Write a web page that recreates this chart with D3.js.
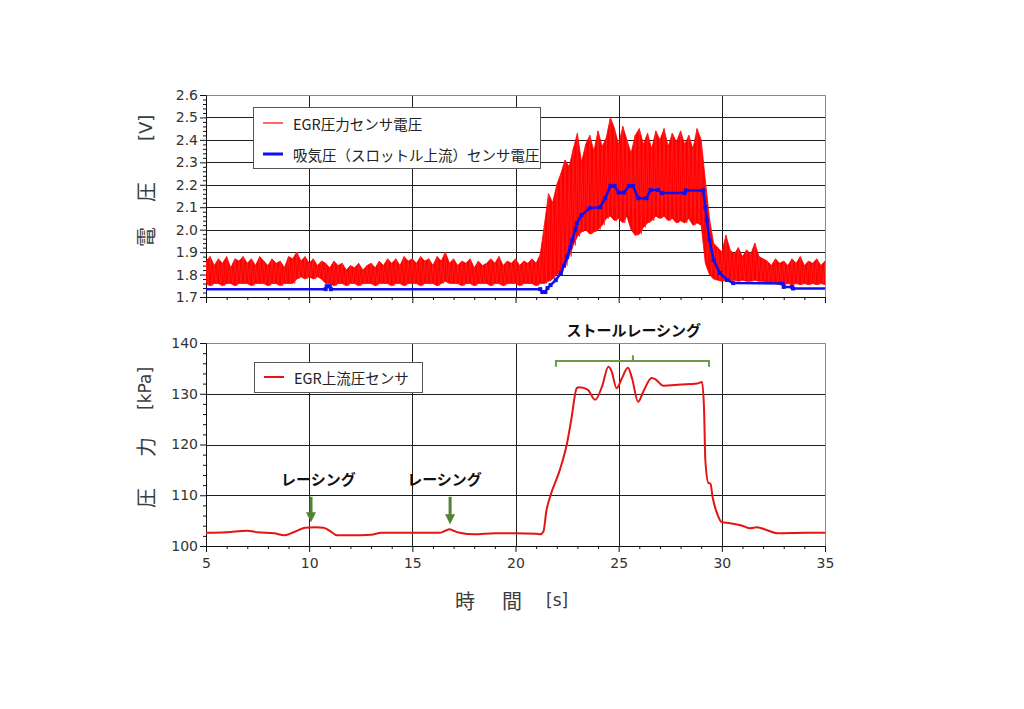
<!DOCTYPE html>
<html><head><meta charset="utf-8">
<script src="https://cdn.jsdelivr.net/npm/d3@7"></script>
<style>
html,body{margin:0;padding:0;background:#fff;}
svg{display:block;}
</style></head>
<body>
<script>
// ---------- DATA ----------
// top chart: EGR pressure sensor voltage (red) -- upper / lower envelope sampled every 0.2 s from 5 s to 35 s
const redStart = 5, redStep = 0.2;
const redHi = [
 1.86,1.88,1.84,1.87,1.85, 1.88,1.83,1.87,1.86,1.88, 1.85,1.87,1.84,1.88,1.86,
 1.84,1.87,1.85,1.86,1.83, 1.88,1.87,1.90,1.86,1.88, 1.85,1.87,1.84,1.86,1.85,
 1.83,1.86,1.84,1.85,1.82, 1.84,1.83,1.85,1.82,1.84, 1.85,1.83,1.86,1.84,1.87,
 1.85,1.87,1.84,1.88,1.86, 1.87,1.85,1.88,1.86,1.87, 1.84,1.88,1.86,1.90,1.85,
 1.87,1.84,1.86,1.85,1.87, 1.83,1.86,1.84,1.85,1.87, 1.85,1.88,1.84,1.86,1.85,
 1.87,1.84,1.86,1.85,1.87, 1.85,1.89,2.02,2.16,2.12, 2.20,2.25,2.31,2.28,2.36,
 2.43,2.30,2.38,2.42,2.35, 2.44,2.37,2.41,2.50,2.45, 2.38,2.46,2.40,2.34,2.42,
 2.45,2.38,2.43,2.36,2.44, 2.40,2.45,2.37,2.43,2.39, 2.44,2.38,2.42,2.36,2.45,
 2.40,2.22,2.05,1.94,1.92, 1.90,1.975,1.91,1.89,1.92, 1.88,1.91,1.89,1.94,1.88,
 1.87,1.86,1.84,1.87,1.85, 1.86,1.84,1.87,1.85,1.88, 1.84,1.86,1.85,1.87,1.84, 1.86
];
const redLo = [
 1.76,1.75,1.76,1.76,1.75, 1.76,1.76,1.75,1.76,1.76, 1.76,1.75,1.76,1.76,1.76,
 1.75,1.76,1.76,1.75,1.76, 1.76,1.76,1.78,1.79,1.78, 1.79,1.78,1.79,1.78,1.76,
 1.76,1.75,1.76,1.76,1.75, 1.76,1.76,1.75,1.76,1.76, 1.76,1.75,1.76,1.76,1.76,
 1.75,1.76,1.76,1.75,1.76, 1.76,1.76,1.75,1.76,1.76, 1.76,1.75,1.76,1.77,1.76,
 1.76,1.76,1.75,1.76,1.76, 1.75,1.76,1.76,1.76,1.75, 1.76,1.76,1.75,1.76,1.76,
 1.76,1.75,1.76,1.76,1.76, 1.75,1.76,1.76,1.77,1.78, 1.80,1.81,1.84,1.88,1.93,
 1.97,1.99,2.00,1.98,1.99, 2.00,2.02,2.05,2.06,2.04, 2.05,2.03,2.06,2.00,1.975,
 1.98,2.01,2.03,2.04,2.06, 2.05,2.06,2.04,2.05,2.03, 2.04,2.03,2.05,2.02,2.03,
 2.02,1.85,1.80,1.78,1.775, 1.77,1.775,1.77,1.775,1.77, 1.775,1.77,1.77,1.775,1.77,
 1.77,1.765,1.76,1.76,1.755, 1.755,1.76,1.755,1.76,1.755, 1.76,1.755,1.76,1.755,1.76, 1.755
];
// top chart: intake (throttle upstream) pressure sensor voltage (blue)
const blueT = [5,10.8,10.85,11.0,11.05,21.2,21.3,21.45,21.55,21.7,21.95,22.2,22.35,22.5,22.65,22.75,22.9,22.98,23.2,23.6,24.1,24.35,24.6,24.8,25.0,25.25,25.5,25.7,25.95,26.35,26.55,26.9,27.1,28.2,28.25,29.1,29.2,29.27,29.4,29.6,29.9,30.25,30.55,32.95,33.0,33.4,33.45,35];
const blueV = [1.735,1.735,1.748,1.748,1.735,1.735,1.722,1.722,1.74,1.753,1.775,1.807,1.84,1.878,1.92,1.954,2.0,2.03,2.065,2.096,2.10,2.14,2.195,2.195,2.165,2.165,2.195,2.195,2.14,2.14,2.177,2.177,2.163,2.163,2.175,2.175,2.10,2.043,1.954,1.865,1.807,1.776,1.762,1.760,1.745,1.745,1.738,1.738];
// bottom chart: EGR upstream pressure sensor [kPa]
const egrT = [5,6,7,7.5,8.3,8.8,9.3,9.8,10.3,10.7,11.0,11.35,12,13,13.5,15,16.3,16.6,16.8,17.0,17.3,18,19,20,21.0,21.2,21.35,21.5,21.7,22.15,22.5,22.7,22.97,23.1,23.5,23.86,24.2,24.5,24.65,24.9,25.15,25.45,25.65,25.94,26.2,26.6,26.8,27.15,28,28.8,29.04,29.14,29.2,29.35,29.45,29.55,29.8,30.0,30.4,31.0,31.37,31.7,32.2,32.7,34,35];
const egrV = [102.6,102.7,103.0,102.7,102.5,102.1,102.8,103.6,103.7,103.6,103.0,102.1,102.1,102.2,102.6,102.6,102.6,103.0,103.3,103.0,102.6,102.3,102.5,102.5,102.4,102.3,102.8,107,110,115,120.3,124.8,131.1,131.3,130.8,128.8,131.5,135.3,134.5,131.1,133,135.1,133,128.4,130.5,133.1,132.8,131.6,131.8,132.0,132.3,126.8,117,112.4,112.3,109.7,106.1,104.7,104.5,104.0,103.5,103.7,103.1,102.5,102.6,102.6];

// axis ticks / labels
const xTicks = [5,10,15,20,25,30,35];
const topYTicks = [1.7,1.8,1.9,2.0,2.1,2.2,2.3,2.4,2.5,2.6];
const botYTicks = [100,110,120,130,140];

// texts
const legendTop = ["EGR圧力センサ電圧", "吸気圧（スロットル上流）センサ電圧"];
const legendBot = ["EGR上流圧センサ"];
const racingLabels = [{t:10.45, v:112.0, text:"レーシング"}, {t:16.56, v:112.0, text:"レーシング"}];
const racingArrows = [{t:10.09, v0:109.7, v1:104.7}, {t:16.83, v0:109.7, v1:104.3}];
const stallLabel = {t:25.73, v:141.4, text:"ストールレーシング"};
const stallBracket = {t0:21.96, t1:29.38, tc:25.69, v:136.45, vEnd:135.3, vTop:137.6};

// ---------- DRAW ----------
const W = 1024, H = 709;
const svg = d3.select("body").append("svg").attr("width", W).attr("height", H);

const x = d3.scaleLinear().domain([5,35]).range([206,825]);
const yT = d3.scaleLinear().domain([1.7,2.6]).range([297,95]);
const yB = d3.scaleLinear().domain([100,140]).range([546,343]);

const GRID = "#1e1e1e", FRAME = "#8a8a8a";
const tickFont = "'DejaVu Sans', Verdana, sans-serif";
const jpFont = "'Noto Sans CJK JP', 'Noto Sans', sans-serif";
const crisp = v => Math.round(v) + 0.5;

function panel(y, yTicks, yMinor, showXLabels, fmt) {
  const g = svg.append("g");
  const [y0, y1] = y.range();
  yTicks.slice(1, -1).forEach(v => {
    g.append("line").attr("x1", 206).attr("x2", 825).attr("y1", crisp(y(v))).attr("y2", crisp(y(v)))
      .attr("stroke", GRID).attr("stroke-width", 1);
  });
  xTicks.slice(1, -1).forEach(t => {
    g.append("line").attr("x1", crisp(x(t))).attr("x2", crisp(x(t))).attr("y1", y1).attr("y2", y0)
      .attr("stroke", GRID).attr("stroke-width", 1);
  });
  g.append("line").attr("x1", 206).attr("x2", 825).attr("y1", crisp(y1)).attr("y2", crisp(y1)).attr("stroke", FRAME);
  g.append("line").attr("x1", crisp(x(35))).attr("x2", crisp(x(35))).attr("y1", y1).attr("y2", y0).attr("stroke", FRAME);

  const ax = g.append("g").attr("transform", `translate(0,${y0})`).style("color", "#111")
    .call(d3.axisBottom(x).tickValues(xTicks).tickSize(6).tickPadding(6).tickFormat(showXLabels ? d3.format("d") : ""));
  ax.selectAll("text").attr("font-family", tickFont).attr("font-size", 14).attr("fill", "#333");
  g.append("g").attr("transform", `translate(0,${y0})`).style("color", "#111")
    .call(d3.axisBottom(x).tickValues(d3.range(5, 36, 1).filter(t => t % 5 !== 0)).tickSize(3).tickFormat(""))
    .select(".domain").remove();

  const ay = g.append("g").attr("transform", `translate(206,0)`).style("color", "#111")
    .call(d3.axisLeft(y).tickValues(yTicks).tickSize(6).tickPadding(2).tickFormat(fmt));
  ay.selectAll("text").attr("font-family", tickFont).attr("font-size", 14).attr("fill", "#333");
  g.append("g").attr("transform", `translate(206,0)`).style("color", "#111")
    .call(d3.axisLeft(y).tickValues(yMinor).tickSize(3).tickFormat(""))
    .select(".domain").remove();
  return g;
}

const topMinor = d3.range(0, 46).map(i => 1.7 + i * 0.02).filter(v => Math.abs(v * 10 - Math.round(v * 10)) > 0.01);
const botMinor = d3.range(100, 141, 2).filter(v => v % 10 !== 0);
panel(yT, topYTicks, topMinor, false, d3.format(".1f"));
panel(yB, botYTicks, botMinor, true, d3.format("d"));

const defs = svg.append("defs");
defs.append("clipPath").attr("id", "clipT").append("rect").attr("x", 206).attr("y", 95).attr("width", 619).attr("height", 202);
defs.append("clipPath").attr("id", "clipB").append("rect").attr("x", 206).attr("y", 343).attr("width", 619).attr("height", 203);

// red noisy trace: filled band between lower and upper envelope, plus zig-zag spikes
const redRows = redHi.map((h, i) => ({t: redStart + i * redStep, hi: h, lo: redLo[i]}));
svg.append("path").attr("clip-path", "url(#clipT)")
  .attr("d", d3.area().x(d => x(d.t)).y0(d => yT(d.lo)).y1(d => yT(d.hi))(redRows))
  .attr("fill", "#ff0000").attr("stroke", "#ff0000").attr("stroke-width", 0.8);
const zig = [];
redRows.forEach((r, i) => { zig.push([r.t, r.hi]); if (i < redRows.length - 1) zig.push([r.t + redStep / 2, r.lo]); });
const lineT = d3.line().x(d => x(d[0])).y(d => yT(d[1]));
svg.append("path").attr("clip-path", "url(#clipT)").attr("d", lineT(zig))
  .attr("fill", "none").attr("stroke", "#ff2020").attr("stroke-width", 0.8);

// blue trace
const bluePts = blueT.map((t, i) => [t, blueV[i]]);
svg.append("path").attr("clip-path", "url(#clipT)").attr("d", lineT(bluePts))
  .attr("fill", "none").attr("stroke", "#1010ee").attr("stroke-width", 2.5);
svg.append("g").attr("clip-path", "url(#clipT)").selectAll("rect").data(bluePts.slice(1, -1)).join("rect")
  .attr("x", d => x(d[0]) - 2).attr("y", d => yT(d[1]) - 2).attr("width", 4).attr("height", 4).attr("fill", "#1010ee");

// bottom red trace
const egrPts = egrT.map((t, i) => [t, egrV[i]]);
svg.append("path").attr("clip-path", "url(#clipB)")
  .attr("d", d3.line().x(d => x(d[0])).y(d => yB(d[1])).curve(d3.curveMonotoneX)(egrPts))
  .attr("fill", "none").attr("stroke", "#e31414").attr("stroke-width", 2);

// legends
function legend(x0, y0, w, h, items) {
  const g = svg.append("g");
  g.append("rect").attr("x", x0 + 0.5).attr("y", y0 + 0.5).attr("width", w).attr("height", h)
    .attr("fill", "#fff").attr("stroke", "#555").attr("stroke-width", 1);
  items.forEach(it => {
    const cy = y0 + it.dy;
    g.append("line").attr("x1", x0 + 10).attr("x2", x0 + 30).attr("y1", cy).attr("y2", cy)
      .attr("stroke", it.color).attr("stroke-width", it.w);
    g.append("text").attr("x", x0 + 40).attr("y", cy).attr("dominant-baseline", "central")
      .attr("font-family", jpFont).attr("font-size", 14.5).attr("fill", "#222").text(it.text);
  });
}
legend(253, 107, 287, 61, [
  {text: legendTop[0], color: "#ff0000", w: 1.2, dy: 16},
  {text: legendTop[1], color: "#1010ee", w: 3, dy: 47}
]);
legend(254, 362, 168, 30, [{text: legendBot[0], color: "#e31414", w: 2, dy: 15}]);

// axis titles
const titleColor = "#3c3c3c";
function vTitle(cx, startY, parts) {
  const t = svg.append("text").attr("transform", `translate(${cx},${startY}) rotate(-90)`)
    .attr("dominant-baseline", "central").attr("fill", titleColor);
  parts.forEach(p => t.append("tspan").attr("dx", p.dx).attr("font-size", p.fs)
    .attr("font-family", p.latin ? tickFont : jpFont).text(p.s));
}
vTitle(145, 247, [{s: "電", dx: 0, fs: 20}, {s: "圧", dx: 25, fs: 20}, {s: "[V]", dx: 41, fs: 18, latin: true}]);
vTitle(145, 508, [{s: "圧", dx: 0, fs: 20}, {s: "力", dx: 31, fs: 20}, {s: "[kPa]", dx: 27, fs: 17, latin: true}]);
{
  const t = svg.append("text").attr("x", 455).attr("y", 600).attr("dominant-baseline", "central").attr("fill", titleColor);
  t.append("tspan").attr("font-family", jpFont).attr("font-size", 20).text("時");
  t.append("tspan").attr("dx", 27).attr("font-family", jpFont).attr("font-size", 20).text("間");
  t.append("tspan").attr("dx", 24).attr("font-family", tickFont).attr("font-size", 17).text("[s]");
}

// annotations
const GREEN = "#548235";
racingLabels.concat([stallLabel]).forEach(l => {
  svg.append("text").attr("x", x(l.t)).attr("y", yB(l.v)).attr("text-anchor", "middle")
    .attr("font-family", jpFont).attr("font-weight", "bold").attr("font-size", 15).attr("fill", "#111").text(l.text);
});
racingArrows.forEach(a => {
  const ax = x(a.t), ya = yB(a.v0), yb = yB(a.v1);
  svg.append("line").attr("x1", ax).attr("x2", ax).attr("y1", ya).attr("y2", yb - 8)
    .attr("stroke", GREEN).attr("stroke-width", 3);
  svg.append("path").attr("d", `M${ax - 5},${yb - 10}L${ax + 5},${yb - 10}L${ax},${yb}Z`).attr("fill", GREEN);
});
{
  const b = stallBracket;
  const yb = yB(b.v), ye = yB(b.vEnd), yt = yB(b.vTop);
  svg.append("path")
    .attr("d", `M${x(b.t0)},${ye}L${x(b.t0)},${yb}L${x(b.t1)},${yb}L${x(b.t1)},${ye}M${x(b.tc)},${yb}L${x(b.tc)},${yt}`)
    .attr("fill", "none").attr("stroke", "#6b9a4b").attr("stroke-width", 2);
}
</script>
</body></html>
